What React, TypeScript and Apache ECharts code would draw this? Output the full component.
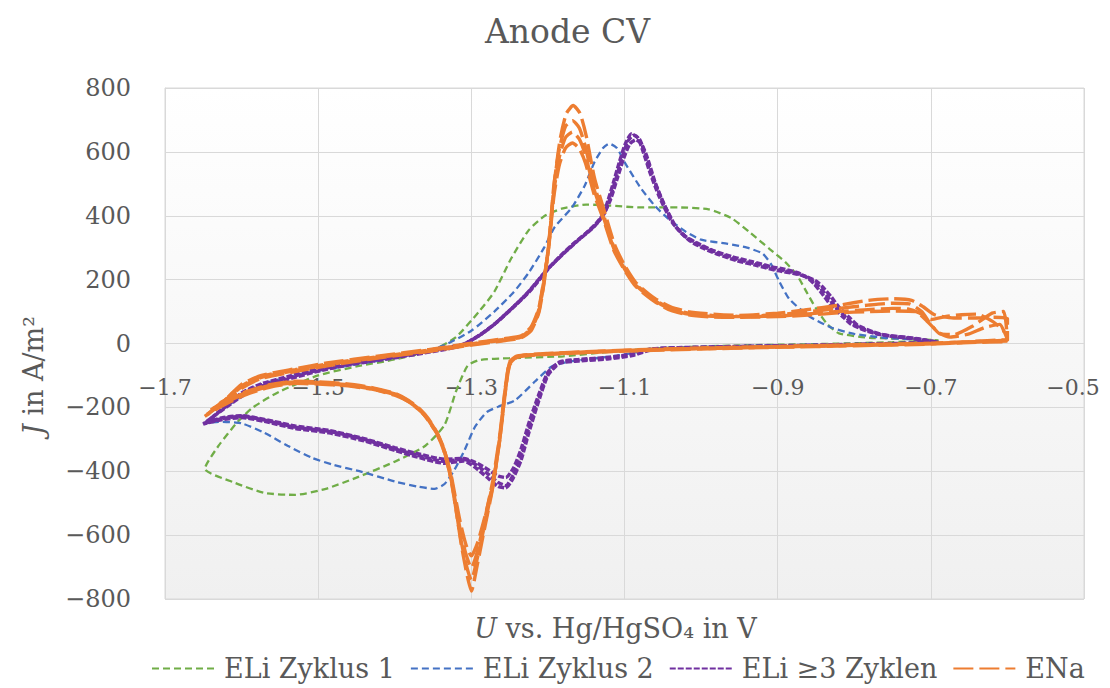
import React, { useEffect, useRef } from "react";
import * as echarts from "echarts";

const FONT = "'DejaVu Serif', serif";
const TEXT = "#595959";

const xTicks = { min: -1.7, max: -0.5, step: 0.2 };
const yTicks = { min: -800, max: 800, step: 200 };

const seriesNames = ["ELi Zyklus 1", "ELi Zyklus 2", "ELi ≥3 Zyklen", "ENa"];
const seriesColors = ["#70ad47", "#4472c4", "#7030a0", "#ed7d31"];

// ELi Zyklus 1 (one cycle) [U in V, J in A/m²]
const eli1: number[][] = [
  [-0.69, 10], [-0.75, 4], [-0.85, -2], [-0.95, -6], [-1.05, -14], [-1.12, -26], [-1.18, -40], [-1.25, -46],
  [-1.29, -52], [-1.305, -70], [-1.32, -150], [-1.335, -255], [-1.36, -320], [-1.4, -370], [-1.45, -420],
  [-1.49, -455], [-1.53, -474], [-1.57, -468], [-1.61, -435], [-1.648, -392],
  [-1.63, -320], [-1.605, -245], [-1.585, -200], [-1.55, -150], [-1.5, -100], [-1.45, -72], [-1.4, -50],
  [-1.35, -20], [-1.32, 20], [-1.29, 100], [-1.27, 162], [-1.248, 266], [-1.225, 355], [-1.204, 400],
  [-1.182, 422], [-1.15, 435], [-1.12, 432], [-1.08, 426], [-1.03, 426], [-0.99, 420], [-0.96, 392],
  [-0.935, 345], [-0.91, 295], [-0.89, 255], [-0.875, 215], [-0.862, 160], [-0.85, 110], [-0.835, 60],
  [-0.82, 32], [-0.78, 18], [-0.72, 14], [-0.69, 10],
];

// ELi Zyklus 2
const eli2: number[][] = [
  [-0.69, 4], [-0.75, 0], [-0.85, -4], [-0.95, -8], [-1.03, -14], [-1.078, -25], [-1.11, -38], [-1.14, -47],
  [-1.175, -58], [-1.195, -72], [-1.217, -119], [-1.243, -178], [-1.265, -198], [-1.28, -215], [-1.295, -260],
  [-1.31, -340], [-1.322, -395], [-1.335, -440], [-1.348, -455], [-1.37, -448], [-1.4, -432], [-1.443, -402],
  [-1.48, -380], [-1.508, -358], [-1.54, -320], [-1.57, -280], [-1.6, -250], [-1.63, -245], [-1.648, -250],
  [-1.63, -215], [-1.6, -165], [-1.574, -128], [-1.52, -95], [-1.45, -65], [-1.4, -45], [-1.36, -25],
  [-1.335, -5], [-1.3, 40], [-1.27, 100], [-1.245, 160], [-1.225, 222], [-1.205, 300], [-1.191, 365],
  [-1.169, 425], [-1.152, 494], [-1.139, 569], [-1.128, 612], [-1.12, 626], [-1.11, 612], [-1.098, 560],
  [-1.078, 484], [-1.06, 430], [-1.043, 391], [-1.02, 350], [-1.0, 325], [-0.965, 312], [-0.94, 300],
  [-0.92, 282], [-0.909, 250], [-0.898, 195], [-0.885, 140], [-0.86, 87], [-0.83, 50], [-0.8, 30],
  [-0.761, 18], [-0.72, 12], [-0.69, 4],
];

// ELi >=3 Zyklen (three cycles)
const eli3a: number[][] = [
  [-0.69, 3], [-0.75, -1], [-0.85, -6], [-0.95, -10], [-1.03, -14], [-1.065, -18], [-1.09, -35], [-1.12, -45],
  [-1.16, -52], [-1.185, -60], [-1.2, -95], [-1.212, -170], [-1.225, -266], [-1.235, -350], [-1.245, -410],
  [-1.255, -445], [-1.265, -435], [-1.28, -405], [-1.295, -378], [-1.31, -362], [-1.335, -369], [-1.37, -350],
  [-1.4, -330], [-1.44, -300], [-1.486, -275], [-1.53, -262], [-1.57, -240], [-1.6, -228], [-1.625, -235],
  [-1.648, -250],
  [-1.63, -215], [-1.6, -160], [-1.574, -130], [-1.54, -108], [-1.495, -80], [-1.45, -60], [-1.4, -42],
  [-1.35, -22], [-1.313, -6], [-1.29, 25], [-1.27, 60], [-1.245, 115], [-1.225, 162], [-1.2, 234],
  [-1.185, 270], [-1.169, 306], [-1.155, 335], [-1.139, 369], [-1.128, 400], [-1.121, 440], [-1.112, 510],
  [-1.104, 575], [-1.096, 632], [-1.088, 652], [-1.08, 638], [-1.074, 600], [-1.063, 520], [-1.052, 455],
  [-1.035, 372], [-1.018, 330], [-1.0, 306], [-0.98, 285], [-0.957, 266], [-0.93, 250], [-0.904, 234],
  [-0.885, 225], [-0.869, 215], [-0.855, 198], [-0.847, 181], [-0.836, 150], [-0.826, 119], [-0.81, 80],
  [-0.8, 58], [-0.78, 38], [-0.761, 26], [-0.72, 15], [-0.69, 3],
];
const eli3b: number[][] = [
  [-0.69, 4], [-0.75, 0], [-0.85, -5], [-0.95, -9], [-1.03, -13], [-1.065, -17], [-1.09, -33], [-1.12, -43],
  [-1.16, -50], [-1.185, -58], [-1.2, -90], [-1.212, -160], [-1.225, -250], [-1.235, -330], [-1.245, -390],
  [-1.255, -420], [-1.265, -415], [-1.28, -392], [-1.295, -372], [-1.31, -360], [-1.335, -362], [-1.37, -345],
  [-1.4, -326], [-1.44, -298], [-1.486, -272], [-1.53, -258], [-1.57, -238], [-1.6, -226], [-1.625, -232],
  [-1.645, -246],
  [-1.628, -210], [-1.6, -155], [-1.574, -126], [-1.54, -104], [-1.495, -76], [-1.45, -57], [-1.4, -40],
  [-1.35, -20], [-1.31, -2], [-1.288, 28], [-1.268, 64], [-1.243, 118], [-1.222, 168], [-1.198, 238],
  [-1.183, 276], [-1.167, 312], [-1.152, 342], [-1.137, 376], [-1.126, 410], [-1.118, 452], [-1.109, 520],
  [-1.101, 580], [-1.093, 625], [-1.085, 638], [-1.078, 625], [-1.071, 588], [-1.06, 505], [-1.049, 440],
  [-1.032, 362], [-1.015, 322], [-0.997, 298], [-0.977, 278], [-0.954, 260], [-0.927, 244], [-0.9, 228],
  [-0.88, 220], [-0.863, 210], [-0.849, 194], [-0.841, 176], [-0.83, 146], [-0.82, 114], [-0.805, 78],
  [-0.795, 56], [-0.775, 36], [-0.756, 24], [-0.72, 14], [-0.69, 4],
];
const eli3c: number[][] = [
  [-0.69, 2], [-0.75, -2], [-0.85, -7], [-0.95, -11], [-1.03, -15], [-1.065, -20], [-1.09, -38], [-1.12, -48],
  [-1.16, -55], [-1.185, -62], [-1.2, -100], [-1.212, -180], [-1.225, -280], [-1.235, -365], [-1.245, -420],
  [-1.255, -452], [-1.265, -448], [-1.28, -418], [-1.295, -388], [-1.31, -368], [-1.335, -375], [-1.37, -356],
  [-1.4, -335], [-1.44, -305], [-1.486, -280], [-1.53, -266], [-1.57, -244], [-1.6, -232], [-1.625, -238],
  [-1.65, -252],
  [-1.632, -220], [-1.6, -166], [-1.574, -134], [-1.54, -112], [-1.495, -84], [-1.45, -63], [-1.4, -45],
  [-1.35, -25], [-1.316, -9], [-1.293, 20], [-1.273, 54], [-1.248, 108], [-1.228, 155], [-1.203, 226],
  [-1.188, 262], [-1.172, 298], [-1.158, 328], [-1.142, 360], [-1.131, 392], [-1.124, 430], [-1.115, 500],
  [-1.107, 566], [-1.099, 625], [-1.091, 656], [-1.083, 646], [-1.077, 610], [-1.066, 530], [-1.055, 462],
  [-1.038, 380], [-1.021, 336], [-1.003, 312], [-0.983, 290], [-0.96, 272], [-0.933, 256], [-0.907, 240],
  [-0.89, 232], [-0.874, 222], [-0.861, 206], [-0.853, 188], [-0.842, 156], [-0.832, 124], [-0.815, 84],
  [-0.805, 62], [-0.785, 40], [-0.766, 28], [-0.72, 16], [-0.69, 2],
];

// ENa (four cycles)
const ena1: number[][] = [
  [-0.6, 10], [-0.65, 5], [-0.7, 0], [-0.8, -5], [-0.9, -10], [-1.0, -15], [-1.1, -22], [-1.2, -32],
  [-1.24, -40], [-1.25, -60], [-1.256, -150], [-1.263, -300], [-1.272, -450], [-1.282, -570], [-1.292, -690],
  [-1.3, -775], [-1.306, -720], [-1.313, -631], [-1.32, -520], [-1.326, -430], [-1.335, -340], [-1.343, -290],
  [-1.355, -245], [-1.365, -215], [-1.38, -185], [-1.4, -162], [-1.43, -143], [-1.465, -132], [-1.5, -127],
  [-1.53, -125], [-1.565, -138], [-1.596, -162], [-1.625, -195], [-1.648, -228],
  [-1.63, -195], [-1.6, -140], [-1.574, -109], [-1.53, -88], [-1.486, -69], [-1.42, -45], [-1.356, -25],
  [-1.3, -5], [-1.26, 8], [-1.235, 18], [-1.222, 40], [-1.212, 95], [-1.205, 190], [-1.199, 306],
  [-1.191, 516], [-1.184, 640], [-1.176, 720], [-1.167, 745], [-1.158, 720], [-1.15, 650], [-1.139, 516],
  [-1.126, 412], [-1.113, 310], [-1.1, 245], [-1.085, 190], [-1.061, 142], [-1.04, 115], [-1.017, 100],
  [-0.985, 92], [-0.952, 88], [-0.9, 95], [-0.865, 105], [-0.82, 120], [-0.782, 135], [-0.75, 140],
  [-0.725, 135], [-0.71, 115], [-0.695, 90], [-0.67, 80], [-0.64, 80], [-0.62, 82], [-0.6, 78], [-0.6, 10],
];
const ena2: number[][] = [
  [-0.6, 8], [-0.65, 4], [-0.7, -1], [-0.8, -6], [-0.9, -11], [-1.0, -16], [-1.1, -23], [-1.2, -33],
  [-1.24, -42], [-1.25, -65], [-1.256, -155], [-1.263, -300], [-1.272, -445], [-1.282, -560], [-1.292, -670],
  [-1.3, -740], [-1.307, -690], [-1.314, -610], [-1.321, -505], [-1.327, -420], [-1.336, -335], [-1.345, -283],
  [-1.356, -240], [-1.367, -210], [-1.382, -182], [-1.4, -160], [-1.43, -142], [-1.465, -130], [-1.5, -125],
  [-1.53, -123], [-1.565, -135], [-1.596, -158], [-1.625, -190], [-1.645, -222],
  [-1.628, -190], [-1.6, -136], [-1.574, -106], [-1.53, -85], [-1.486, -66], [-1.42, -43], [-1.356, -23],
  [-1.3, -3], [-1.26, 10], [-1.235, 20], [-1.222, 44], [-1.212, 100], [-1.205, 195], [-1.199, 310],
  [-1.192, 500], [-1.185, 610], [-1.177, 680], [-1.168, 698], [-1.159, 675], [-1.151, 615], [-1.14, 500],
  [-1.127, 400], [-1.114, 302], [-1.1, 238], [-1.085, 185], [-1.061, 138], [-1.04, 110], [-1.017, 95],
  [-0.985, 88], [-0.952, 85], [-0.9, 90], [-0.865, 98], [-0.82, 110], [-0.782, 120], [-0.75, 126],
  [-0.728, 124], [-0.712, 100], [-0.7, 60], [-0.688, 30], [-0.67, 28], [-0.645, 55], [-0.62, 95],
  [-0.605, 100], [-0.6, 8],
];
const ena3: number[][] = [
  [-0.6, 12], [-0.65, 6], [-0.7, 1], [-0.8, -4], [-0.9, -9], [-1.0, -14], [-1.1, -21], [-1.2, -31],
  [-1.24, -39], [-1.25, -58], [-1.256, -145], [-1.263, -290], [-1.272, -430], [-1.282, -545], [-1.292, -650],
  [-1.3, -702], [-1.307, -660], [-1.314, -590], [-1.321, -495], [-1.327, -412], [-1.336, -330], [-1.345, -280],
  [-1.356, -238], [-1.367, -208], [-1.382, -180], [-1.4, -158], [-1.43, -140], [-1.465, -128], [-1.5, -122],
  [-1.53, -120], [-1.565, -132], [-1.596, -155], [-1.625, -186], [-1.642, -215],
  [-1.626, -186], [-1.6, -132], [-1.574, -103], [-1.53, -82], [-1.486, -63], [-1.42, -41], [-1.356, -21],
  [-1.3, -1], [-1.26, 12], [-1.235, 22], [-1.222, 48], [-1.212, 105], [-1.205, 200], [-1.199, 305],
  [-1.192, 480], [-1.185, 585], [-1.177, 645], [-1.168, 662], [-1.159, 640], [-1.151, 590], [-1.14, 485],
  [-1.127, 392], [-1.114, 298], [-1.1, 234], [-1.085, 182], [-1.061, 135], [-1.04, 107], [-1.017, 92],
  [-0.985, 85], [-0.952, 84], [-0.9, 86], [-0.865, 92], [-0.82, 100], [-0.782, 106], [-0.75, 110],
  [-0.73, 108], [-0.715, 96], [-0.7, 75], [-0.68, 85], [-0.66, 90], [-0.64, 92], [-0.62, 70],
  [-0.605, 40], [-0.6, 12],
];
const ena4: number[][] = [
  [-0.6, 6], [-0.65, 3], [-0.7, -2], [-0.8, -7], [-0.9, -12], [-1.0, -17], [-1.1, -24], [-1.2, -34],
  [-1.24, -43], [-1.25, -68], [-1.256, -160], [-1.263, -305], [-1.272, -440], [-1.282, -540], [-1.292, -625],
  [-1.3, -665], [-1.307, -630], [-1.314, -565], [-1.321, -480], [-1.327, -405], [-1.336, -328], [-1.345, -278],
  [-1.356, -236], [-1.367, -206], [-1.382, -178], [-1.4, -156], [-1.43, -138], [-1.465, -126], [-1.5, -120],
  [-1.53, -118], [-1.565, -130], [-1.596, -152], [-1.625, -182], [-1.64, -208],
  [-1.624, -182], [-1.6, -128], [-1.574, -100], [-1.53, -79], [-1.486, -60], [-1.42, -39], [-1.356, -19],
  [-1.3, 1], [-1.26, 14], [-1.235, 24], [-1.222, 52], [-1.212, 110], [-1.205, 205], [-1.199, 300],
  [-1.192, 465], [-1.185, 560], [-1.177, 612], [-1.168, 628], [-1.159, 610], [-1.151, 565], [-1.14, 470],
  [-1.127, 385], [-1.114, 292], [-1.1, 230], [-1.085, 178], [-1.061, 132], [-1.04, 104], [-1.017, 90],
  [-0.985, 83], [-0.952, 82], [-0.9, 84], [-0.865, 88], [-0.82, 96], [-0.782, 100], [-0.75, 102],
  [-0.72, 100], [-0.705, 70], [-0.69, 35], [-0.675, 20], [-0.65, 30], [-0.63, 50], [-0.61, 60],
  [-0.6, 6],
];

const eliCycles = [eli1, eli2];
const eli3Cycles = [eli3a, eli3b, eli3c];
const enaCycles = [ena1, ena2, ena3, ena4];
const enaDashOffsets = [0, 7, 14, 21];

const fmt = (v: number, d: number) => (v < 0 ? "\u2212" : "") + Math.abs(v).toFixed(d);

const GRID = { left: 165, right: 26, top: 88, bottom: 89 };
const H = 688;

export default function App() {
  const ref = useRef<HTMLDivElement>(null);
  useEffect(() => {
    if (!ref.current) return;
    const chart = echarts.init(ref.current, null, { renderer: "svg" });
    const mk = (name: string, color: string, data: number[][], width: number, dash: number[], offset = 0) => ({
      name,
      type: "line",
      data,
      symbol: "none",
      smooth: 0.2,
      color,
      lineStyle: { color, width, type: dash, dashOffset: offset, cap: "butt" },
      z: 2,
    });
    const series: any[] = [];
    series.push(mk(seriesNames[0], seriesColors[0], eliCycles[0], 2.3, [7, 4]));
    series.push(mk(seriesNames[1], seriesColors[1], eliCycles[1], 2.3, [7, 4]));
    eli3Cycles.forEach((c) => series.push(mk(seriesNames[2], seriesColors[2], c, 3.4, [6, 2])));
    enaCycles.forEach((c, i) =>
      series.push(mk(seriesNames[3], seriesColors[3], c, 3.4, [20, 6], enaDashOffsets[i]))
    );

    const plotH = H - GRID.top - GRID.bottom;
    const zeroOffset = -plotH / 2; // move x axis from the bottom edge to J = 0

    chart.setOption({
      animation: false,
      backgroundColor: "#ffffff",
      title: {
        text: "Anode CV",
        left: 480,
        top: 10,
        textStyle: { fontFamily: FONT, fontSize: 33, fontWeight: "normal", color: TEXT },
      },
      grid: {
        ...GRID,
        outerBoundsMode: "none",
        containLabel: false,
        show: true,
        borderColor: "#d9d9d9",
        borderWidth: 1,
        backgroundColor: new echarts.graphic.LinearGradient(0, 0, 0, 1, [
          { offset: 0, color: "#ffffff" },
          { offset: 1, color: "#f0f0f0" },
        ]),
      },
      legend: {
        data: seriesNames,
        top: 650,
        left: 146,
        itemWidth: 62,
        itemHeight: 14,
        itemGap: 15,
        itemStyle: { opacity: 0 },
        textStyle: { fontFamily: FONT, fontSize: 27, color: TEXT, padding: [0, 0, 0, 5] },
      },
      xAxis: {
        type: "value",
        min: xTicks.min,
        max: xTicks.max,
        interval: xTicks.step,
        position: "bottom",
        offset: zeroOffset,
        name: "{i|U} vs. Hg/HgSO\u2084 in V",
        nameLocation: "middle",
        nameGap: 271,
        nameTextStyle: {
          fontFamily: FONT,
          fontSize: 27,
          color: TEXT,
          padding: [0, 18, 0, 0],
          rich: { i: { fontFamily: FONT, fontSize: 27, fontStyle: "italic", color: TEXT } },
        },
        axisLine: { show: true, onZero: false, lineStyle: { color: "#d9d9d9" } },
        axisTick: { show: false },
        axisLabel: {
          margin: 33,
          fontFamily: FONT,
          fontSize: 22,
          color: TEXT,
          formatter: (v: number) =>
            Math.abs(v - xTicks.max) < 1e-6 ? "{r|" + fmt(v, 1) + "}" : fmt(v, 1),
          rich: { r: { fontFamily: FONT, fontSize: 22, color: TEXT, padding: [0, 22, 0, 0] } },
        },
        splitLine: { show: true, lineStyle: { color: "#d9d9d9", width: 1 } },
      },
      yAxis: {
        type: "value",
        min: yTicks.min,
        max: yTicks.max,
        interval: yTicks.step,
        name: "{i|J} in A/m\u00b2",
        nameLocation: "middle",
        nameGap: 118,
        nameTextStyle: {
          fontFamily: FONT,
          fontSize: 27,
          color: TEXT,
          padding: [0, 64, 0, 0],
          rich: { i: { fontFamily: FONT, fontSize: 27, fontStyle: "italic", color: TEXT } },
        },
        axisLine: { show: true, onZero: false, lineStyle: { color: "#d9d9d9" } },
        axisTick: { show: false },
        axisLabel: {
          margin: 34,
          fontFamily: FONT,
          fontSize: 24,
          color: TEXT,
          formatter: (v: number) => fmt(v, 0),
        },
        splitLine: { show: true, lineStyle: { color: "#d9d9d9", width: 1 } },
      },
      series,
    });
    return () => chart.dispose();
  }, []);
  return <div ref={ref} style={{ position: "fixed", left: 0, top: 0, width: 1110, height: H }} />;
}
